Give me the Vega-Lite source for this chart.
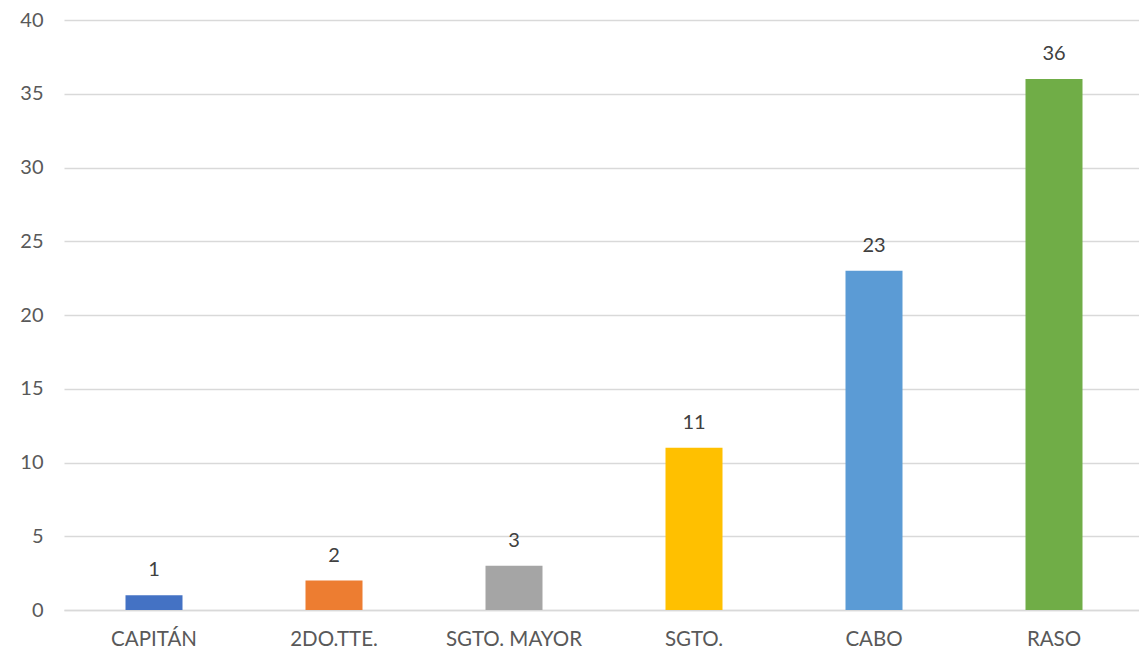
{
  "$schema": "https://vega.github.io/schema/vega-lite/v6.json",
  "width": 1080,
  "height": 590,
  "autosize": {"type": "none"},
  "padding": {"left": 64, "top": 20, "right": 0, "bottom": 43},
  "background": "white",
  "config": {"view": {"stroke": null}, "font": "Lato"},
  "data": {"values": [
    {"rank": "CAPITÁN", "count": 1, "color": "#4472C4"},
    {"rank": "2DO.TTE.", "count": 2, "color": "#ED7D31"},
    {"rank": "SGTO. MAYOR", "count": 3, "color": "#A5A5A5"},
    {"rank": "SGTO.", "count": 11, "color": "#FFC000"},
    {"rank": "CABO", "count": 23, "color": "#5B9BD5"},
    {"rank": "RASO", "count": 36, "color": "#70AD47"}
  ]},
  "encoding": {
    "x": {"field": "rank", "type": "nominal", "sort": null, "title": null,
      "scale": {"paddingInner": 0, "paddingOuter": 0},
      "axis": {"labelAngle": 0, "labelFontSize": 20.5, "labelColor": "#595959", "labelFont": "Lato",
        "ticks": false, "domainColor": "#D9D9D9", "domainWidth": 1.5, "labelPadding": 19, "grid": false}},
    "y": {"field": "count", "type": "quantitative", "title": null,
      "scale": {"domain": [0, 40]},
      "axis": {"values": [0, 5, 10, 15, 20, 25, 30, 35, 40], "labelFontSize": 20, "labelColor": "#595959",
        "labelFont": "Lato", "ticks": false, "domain": false, "gridColor": "#D9D9D9", "gridWidth": 1.5, "labelPadding": 21}}
  },
  "layer": [
    {"mark": {"type": "bar", "size": 57},
     "encoding": {"color": {"field": "color", "type": "nominal", "scale": null}}},
    {"mark": {"type": "text", "baseline": "bottom", "dy": -15, "fontSize": 20, "color": "#404040", "font": "Lato"},
     "encoding": {"text": {"field": "count", "type": "quantitative"}}}
  ]
}
